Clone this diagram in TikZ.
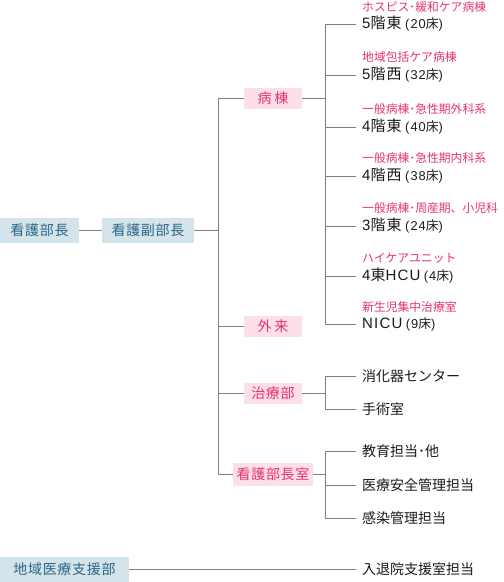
\documentclass[tikz,border=0pt]{standalone}
\usepackage{fontspec}
\setmainfont{Noto Sans CJK JP}
\newfontfamily\boxfont[LetterSpace=5]{Noto Sans CJK JP}
\newfontfamily\wardcjk[LetterSpace=8]{Noto Sans CJK JP}
\newfontfamily\wardlatin[LetterSpace=8]{Liberation Sans}
\definecolor{bluebg}{HTML}{D5E4EB}
\definecolor{bluetx}{HTML}{2A6686}
\definecolor{pinkbg}{HTML}{FDDFEB}
\definecolor{pinktx}{HTML}{E4336F}
\definecolor{linegray}{HTML}{808080}
\definecolor{txtblack}{HTML}{1A1A1A}
\tikzset{
  x=1pt, y=-1pt,
  conn/.style={draw=linegray, line width=1pt},
  bluebox/.style={fill=bluebg, text=bluetx, inner sep=0pt, minimum height=25pt,
    font=\boxfont\fontsize{14}{14}\selectfont},
  pinkbox/.style={fill=pinkbg, text=pinktx, inner sep=0pt, minimum height=21pt,
    minimum width=58pt, font=\boxfont\fontsize{14}{14}\selectfont},
  item/.style={anchor=west, inner xsep=6pt, inner ysep=0pt, text=txtblack,
    font=\fontsize{14}{14}\selectfont},
  warditem/.style={item, font=\fontsize{15}{15}\wardcjk},
  redlabel/.style={anchor=west, inner sep=0pt, text=pinktx,
    font=\fontsize{11.8}{11.8}\selectfont},
}
\newcommand{\lt}[1]{{\wardlatin #1}}
\newcommand{\beds}[1]{\hspace{3.5pt}{\fontsize{12.8}{12.8}\selectfont\lt{(#1}{\wardcjk 床}\lt{)}}}
\begin{document}
\begin{tikzpicture}
\useasboundingbox (0,0) rectangle (504,582);
% main boxes
\node[bluebox, minimum width=79pt] (bucho) at (39.5,230.5) {看護部長};
\node[bluebox, minimum width=92pt] (fuku) at (148,230.5) {看護副部長};
\node[bluebox, minimum width=129pt] (chiiki) at (64.5,569.5) {地域医療支援部};
% second level
\node[pinkbox] (byoto) at (273,98.5) {病\hspace{3pt}棟};
\node[pinkbox] (gairai) at (273,326.5) {外\hspace{3pt}来};
\node[pinkbox] (chiryo) at (273,393) {治療部};
\node[pinkbox, minimum width=80pt, minimum height=23pt] (heya) at (273,474.5) {看護部長室};
% junction coordinates
\coordinate (t) at (218,0);
\coordinate (w) at (325,0);
% wards
\node[redlabel] (l1) at (362,7) {ホスピス･緩和ケア病棟};
\node[warditem] (w1) at (356,24) {\lt{5}階東\beds{20}};
\node[redlabel] (l2) at (362,57) {地域包括ケア病棟};
\node[warditem] (w2) at (356,75) {\lt{5}階西\beds{32}};
\node[redlabel] (l3) at (362,109) {一般病棟･急性期外科系};
\node[warditem] (w3) at (356,127) {\lt{4}階東\beds{40}};
\node[redlabel] (l4) at (362,158) {一般病棟･急性期内科系};
\node[warditem] (w4) at (356,176) {\lt{4}階西\beds{38}};
\node[redlabel] (l5) at (362,208) {一般病棟･周産期、小児科};
\node[warditem] (w5) at (356,226) {\lt{3}階東\beds{24}};
\node[redlabel] (l6) at (362,258) {ハイケアユニット};
\node[warditem] (w6) at (356,276) {\lt{4}東\lt{HCU}\beds{4}};
\node[redlabel] (l7) at (362,307) {新生児集中治療室};
\node[warditem] (w7) at (356,324) {\lt{NICU}\beds{9}};
% treatment
\node[item] (c1) at (356,376) {消化器センター};
\node[item] (c2) at (356,409) {手術室};
% office
\node[item] (h1) at (356,451) {教育担当･他};
\node[item] (h2) at (356,485) {医療安全管理担当};
\node[item] (h3) at (356,518) {感染管理担当};
% regional
\node[item] (r1) at (356,569.5) {入退院支援室担当};
% connectors
\draw[conn] (bucho.east) -- (fuku.west);
\draw[conn] (fuku.east) -- (fuku.east -| t);
\draw[conn] (byoto.west -| t) -- (heya.west -| t);
\draw[conn] (byoto.west -| t) -- (byoto.west);
\draw[conn] (gairai.west -| t) -- (gairai.west);
\draw[conn] (chiryo.west -| t) -- (chiryo.west);
\draw[conn] (heya.west -| t) -- (heya.west);
% wards
\draw[conn] (byoto.east) -- (byoto.east -| w);
\draw[conn] (w1.west -| w) -- (w7.west -| w);
\foreach \n in {w1,w2,w3,w4,w5,w6,w7} \draw[conn] (\n.west -| w) -- (\n.west);
% treatment
\draw[conn] (chiryo.east) -- (chiryo.east -| w);
\draw[conn] (c1.west -| w) -- (c2.west -| w);
\foreach \n in {c1,c2} \draw[conn] (\n.west -| w) -- (\n.west);
% office
\draw[conn] (heya.east) -- (heya.east -| w);
\draw[conn] (h1.west -| w) -- (h3.west -| w);
\foreach \n in {h1,h2,h3} \draw[conn] (\n.west -| w) -- (\n.west);
% regional
\draw[conn] (chiiki.east) -- (r1.west);
\end{tikzpicture}
\end{document}
